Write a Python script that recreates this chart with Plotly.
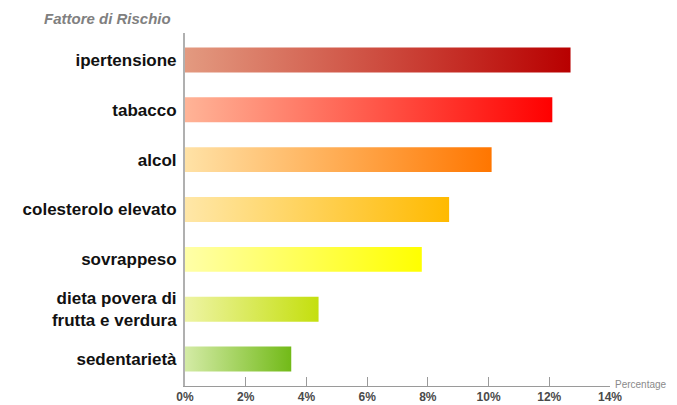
import plotly.graph_objects as go

# Risk factors, top to bottom, with their share (%)
fattori = ["ipertensione", "tabacco", "alcol", "colesterolo elevato",
           "sovrappeso", "dieta povera di<br>frutta e verdura", "sedentarietà"]
valori = [12.7, 12.1, 10.1, 8.7, 7.8, 4.4, 3.5]

# Gradient colours for each bar: light at the base, saturated at the tip
colori_inizio = ["#E39A80", "#FFB497", "#FFE2A6", "#FFE7A8", "#FFFFA8", "#EEF4A4", "#D4EBA6"]
colori_fine = ["#B80000", "#FF0000", "#FF7600", "#FFBA00", "#FFFF00", "#C4DF0E", "#72BA18"]

x_ticks = [0, 2, 4, 6, 8, 10, 12, 14]
x_tick_labels = [f"{t}%" for t in x_ticks]

n = len(fattori)
pos = [n - 1 - i for i in range(n)]  # first category at the top
half = 0.25

W, H = 677, 405
L, R, T, B = 185, 67, 33, 19
pw, ph = W - L - R, H - T - B


def px_x(x):
    return (x - L) / pw


def px_y(y):
    return (H - B - y) / ph


fig = go.Figure()
for v, p, c0, c1 in zip(valori, pos, colori_inizio, colori_fine):
    fig.add_trace(go.Scatter(
        x=[0, v, v, 0, 0],
        y=[p - half, p - half, p + half, p + half, p - half],
        mode="lines",
        line=dict(width=0),
        fill="toself",
        fillgradient=dict(type="horizontal", colorscale=[[0, c0], [1, c1]]),
        hoverinfo="skip",
        showlegend=False,
    ))

fig.update_layout(
    width=W, height=H,
    margin=dict(l=L, r=R, t=T, b=B, autoexpand=False),
    paper_bgcolor="white", plot_bgcolor="white",
    font=dict(family="Liberation Sans, Arial, sans-serif"),
    xaxis=dict(
        range=[0, 14], tickvals=x_ticks, ticktext=x_tick_labels,
        showgrid=False, zeroline=False, automargin=False,
        showline=True, linecolor="#9a9a9a", linewidth=1,
        ticks="inside", ticklen=9, tickcolor="#9a9a9a", tickwidth=1,
        tickfont=dict(size=12, color="#4a4a4a", weight="bold"),
        fixedrange=True,
    ),
    yaxis=dict(
        range=[-0.54, 6.54], tickvals=pos, ticktext=fattori,
        showgrid=False, zeroline=False, automargin=False,
        showline=True, linecolor="#b0b0b0", linewidth=2,
        ticks="", ticklabelstandoff=3,
        tickfont=dict(size=17, color="#111111", weight="bold"),
        fixedrange=True,
    ),
    annotations=[
        dict(text="<b><i>Fattore di Rischio</i></b>", xref="paper", yref="paper",
             x=px_x(173), y=px_y(18), xanchor="right", yanchor="middle",
             showarrow=False, font=dict(size=15, color="#808080")),
        dict(text="Percentage", xref="paper", yref="paper",
             x=px_x(613), y=px_y(384), xanchor="left", yanchor="middle",
             showarrow=False, font=dict(size=10, color="#8a8a8a")),
    ],
)

fig.write_html("out.html")
